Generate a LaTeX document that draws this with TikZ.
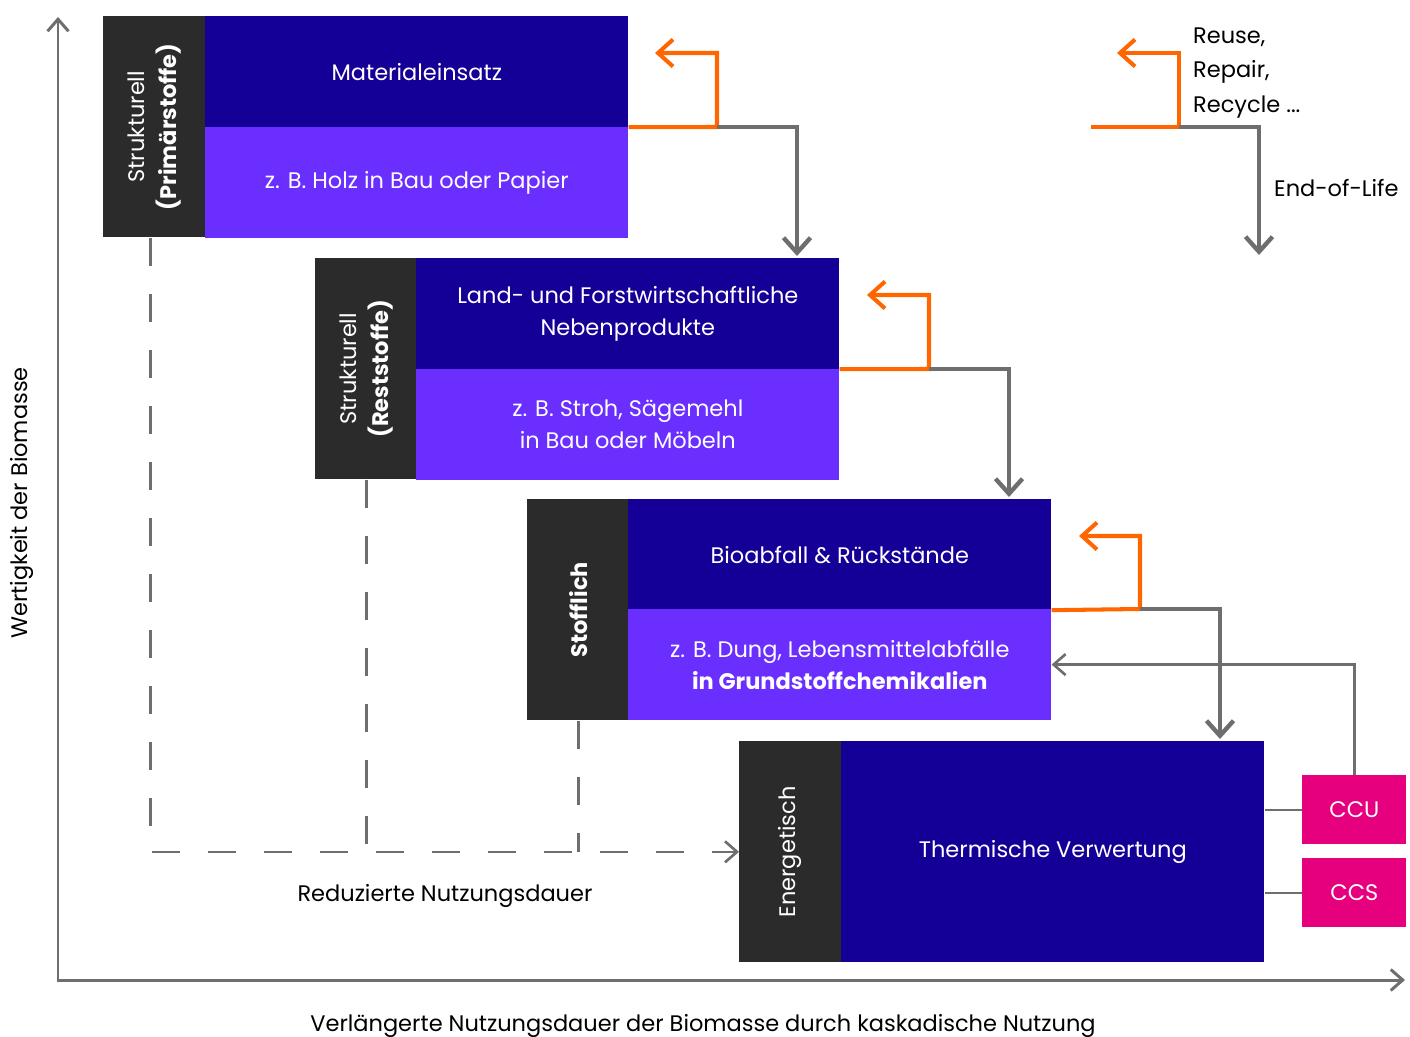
\documentclass[tikz,border=0pt]{standalone}
\usepackage{fontspec}
\setmainfont{Poppins}
\usetikzlibrary{
  arrows.meta,
  positioning,
  calc
}
\definecolor{blockdark}{HTML}{140096}
\definecolor{blocklight}{HTML}{6A2EFF}
\definecolor{tagdark}{HTML}{2B2B2B}
\definecolor{flowgray}{HTML}{6E6E6E}
\definecolor{loopor}{HTML}{FF6600}
\definecolor{ccpink}{HTML}{E6007E}
\newcommand{\boxfont}{\fontsize{12.8}{18.2}\selectfont}

\begin{document}
\begin{tikzpicture}[
  x=0.02cm, y=-0.02cm,
  every node/.style={font=\boxfont},
  tag/.style={fill=tagdark, minimum width=2.04cm, minimum height=4.42cm,
              inner sep=0pt, anchor=north west},
  head/.style={fill=blockdark, text=white, align=center, inner sep=0pt,
               minimum width=8.46cm, minimum height=2.21cm, anchor=north west},
  sub/.style={head, fill=blocklight},
  vtext/.style={rotate=90, text=white, align=center},
  ccbox/.style={fill=ccpink, text=white, inner sep=0pt,
                minimum width=2.08cm, minimum height=1.38cm, anchor=north west},
  fwd/.style={draw=flowgray, line width=2.5pt,
              -{Straight Barb[length=0.3cm, width=0.54cm]}},
  back/.style={draw=loopor, line width=2.3pt,
               -{Straight Barb[length=0.3cm, width=0.54cm]}},
  thin/.style={draw=flowgray, line width=1.5pt},
  thinarrow/.style={thin, -{Straight Barb[length=0.24cm, width=0.42cm]}},
  dashline/.style={thin, dash pattern=on 0.56cm off 0.56cm}
]
\useasboundingbox (0,0) rectangle (1410,1037);

% Axes
\coordinate (ytip) at (58,17);
\coordinate (xtip) at (1405,980);
\draw[thin, line width=1.7pt,
      {Straight Barb[length=0.24cm, width=0.42cm]}-{Straight Barb[length=0.24cm, width=0.42cm]}]
  (ytip) |- (xtip);
\node[rotate=90] (yl) at (22,503) {Wertigkeit der Biomasse};
\node (xl) at (703,1026) {Verlängerte Nutzungsdauer der Biomasse durch kaskadische Nutzung};

% Strukturell, primary
\node[tag] (lb1) at (103,16) {};
\node[head] (hd1) at (205,16) {Materialeinsatz};
\node[sub] (sb1) at (205,127) {z. B. Holz in Bau oder Papier};
\node[vtext] at (lb1) {Strukturell\\\textbf{(Primärstoffe)}};

% Strukturell, residues
\node[tag] (lb2) at (315,258) {};
\node[head] (hd2) at (416,258) {Land- und Forstwirtschaftliche\\Nebenprodukte};
\node[sub] (sb2) at (416,369) {z. B. Stroh, Sägemehl\\in Bau oder Möbeln};
\node[vtext] at (lb2) {Strukturell\\\textbf{(Reststoffe)}};

% Stofflich
\node[tag] (lb3) at (527,499) {};
\node[head] (hd3) at (628,499) {Bioabfall \& Rückstände};
\node[sub] (sb3) at (628,609) {z. B. Dung, Lebensmittelabfälle\\\textbf{in Grundstoffchemikalien}};
\node[vtext] at (lb3) {\textbf{Stofflich}};

% Energetisch
\node[tag] (lb4) at (739,741) {};
\node[head, minimum height=4.42cm] (hd4) at (841,741) {Thermische Verwertung};
\node[vtext] at (lb4) {Energetisch};

\node[ccbox] (ccu) at (1302,775) {CCU};
\node[ccbox] (ccs) at (1302,858) {CCS};

% Cascade steps
\coordinate (turn1) at (717,127);
\coordinate (ret1) at (655,53);
\coordinate (drop1) at (797,256);
\draw[back] (hd1.south east) -- (turn1) |- (ret1);
\draw[fwd] (turn1) -| (drop1);

\coordinate (turn2) at (929,369);
\coordinate (ret2) at (867,295);
\coordinate (drop2) at (1009,497);
\draw[back] (hd2.south east) -- (turn2) |- (ret2);
\draw[fwd] (turn2) -| (drop2);

\coordinate (turn3) at (1140,609);
\coordinate (ret3) at (1079,536);
\coordinate (drop3) at (1220,739);
\draw[back] (hd3.south east) -- (turn3) |- (ret3);
\draw[fwd] (turn3) -| (drop3);

% CCU / CCS
\draw[thin] (ccu.west) -- (ccu.west -| hd4.east);
\draw[thin] (ccs.west) -- (ccs.west -| hd4.east);
\draw[thinarrow] (ccu.north) |- (sb3.east);

% Shorter use
\draw[dashline, -{Straight Barb[length=0.24cm, width=0.42cm]}]
  ([xshift=-0.08cm]lb1.south) |- (lb4.west);
\draw[dashline] (lb2.south) -- (lb2.south |- lb4.west);
\draw[dashline] (lb3.south) -- (lb3.south |- lb4.west);
\node (short) at (445,896) {Reduzierte Nutzungsdauer};

% Legend
\coordinate (lgstart) at (1091,127);
\coordinate (lgturn) at (1179,127);
\coordinate (lgret) at (1117,53);
\coordinate (lgdrop) at (1259,255);
\draw[back] (lgstart) -- (lgturn) |- (lgret);
\draw[fwd] (lgturn) -| (lgdrop);
\node[anchor=west, align=left, font=\fontsize{12.8}{19.8}\selectfont] (loops)
  at (1187,73) {Reuse,\\Repair,\\Recycle ...};
\node[anchor=west] (eol) at (1268,188) {End-of-Life};

\end{tikzpicture}
\end{document}
